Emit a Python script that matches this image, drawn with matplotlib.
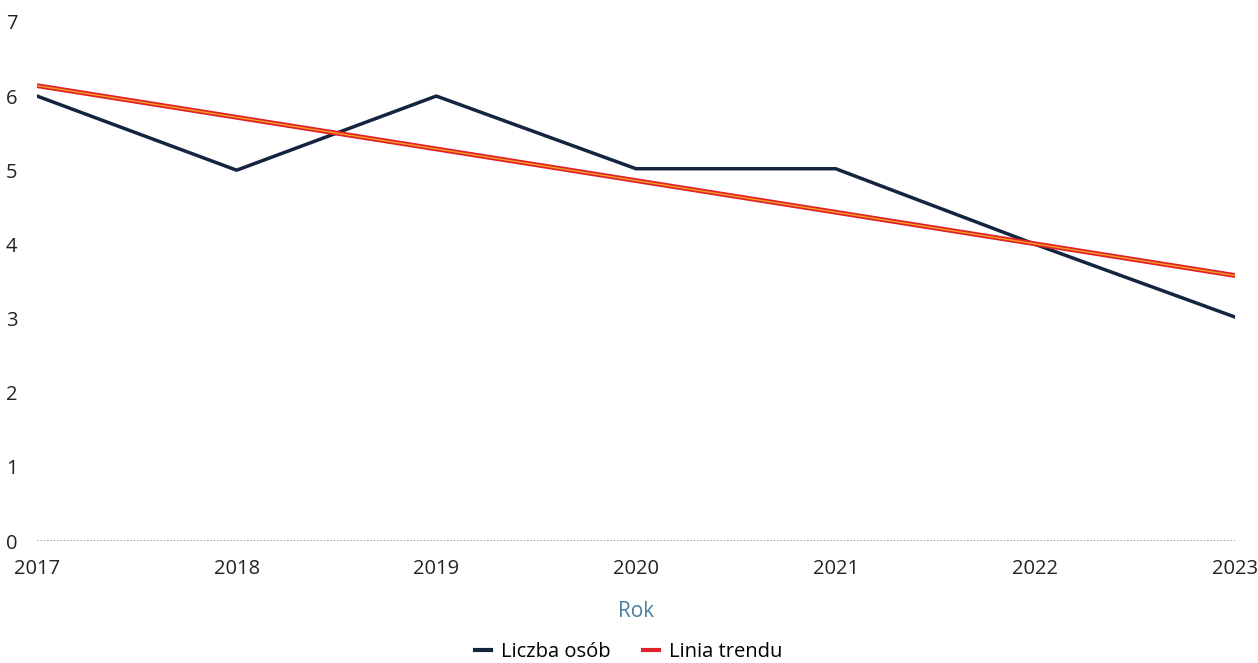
import matplotlib.pyplot as plt

plt.rcParams['font.family'] = ['Open Sans', 'DejaVu Sans']

# Dane
lata = [2017, 2018, 2019, 2020, 2021, 2022, 2023]
liczba_osob = [6, 5, 6, 5.02, 5.02, 4, 3.02]
trend_x = [2017, 2023]
trend_y = [6.14, 3.58]

fig = plt.figure(figsize=(12.58, 6.63), dpi=100)
ax = fig.add_axes([0.0294, 0.184, 0.9523, 0.783])

# Linie
ax.plot(lata, liczba_osob, color='#15243f', linewidth=2.5, zorder=3)
ax.plot(trend_x, trend_y, color='#e0202c', linewidth=3.5, zorder=4)
ax.plot(trend_x, trend_y, color='#f5a21a', linewidth=1.0, zorder=5)
ax.axhline(0, color='#7fa6bd', linewidth=1.2, linestyle=(0, (1, 1)), zorder=1)

ax.set_xlim(2017, 2023)
ax.set_ylim(0, 7)
ax.set_xticks(lata)
ax.set_yticks(range(0, 8))
for s in ax.spines.values():
    s.set_visible(False)
ax.tick_params(length=0, labelsize=14.5, colors='#222222')
ax.tick_params(axis='x', pad=13)
ax.tick_params(axis='y', pad=14)

ax.set_xlabel('Rok', fontsize=15, color='#4a7fa0', labelpad=16)

# Legenda
h1, = ax.plot([], [], color='#15243f', linewidth=3)
h2, = ax.plot([], [], color='#e0202c', linewidth=3)
fig.legend([h1, h2], ['Liczba osób', 'Linia trendu'], loc='lower center',
           bbox_to_anchor=(0.5, -0.017), ncol=2, frameon=False, fontsize=14.5,
           borderpad=0.1, handlelength=0.8, handletextpad=0.5, columnspacing=1.6)

plt.savefig('out.png', dpi=100)
